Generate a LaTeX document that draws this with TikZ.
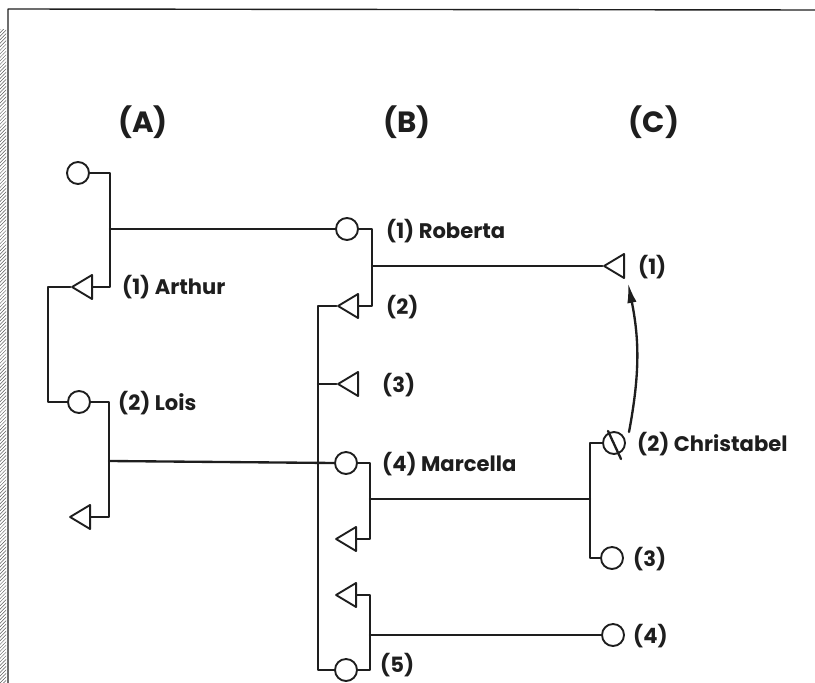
\documentclass[tikz,border=0pt]{standalone}
\usepackage{fontspec}
\setmainfont{Poppins}
\usetikzlibrary{arrows.meta,calc,positioning,shapes.geometric,patterns}

\begin{document}
\begin{tikzpicture}[
  x=0.03cm, y=-0.03cm,
  >=Latex,
  line cap=round,
  line join=round,
  kin/.style={draw=ink, line width=2pt},
  female/.style={circle, draw=ink, line width=1.6pt, inner sep=0pt, minimum size=0.66cm},
  male/.style={isosceles triangle, isosceles triangle apex angle=62,
    shape border rotate=180, draw=ink, line width=1.6pt, inner sep=0pt, minimum size=0.6cm},
  lbl/.style={anchor=west, inner sep=0pt, text=ink, font=\fontsize{18}{20}\selectfont\bfseries},
  head/.style={text=ink, font=\fontsize{25}{28}\selectfont\bfseries},
  descent/.style={-{Latex[length=17pt,width=8pt]}, draw=ink, line width=2pt}
]
\definecolor{ink}{HTML}{1E1E1E}
\useasboundingbox (0,0) rectangle (815,683);

% frame of the scanned page
\fill[pattern=north east lines, pattern color=ink!70] (0,30) rectangle (6,683);
\draw[ink, line width=1.2pt] (8,683) -- (8,9) -- (815,10);

\node[head] (hA) at (143,122) {(A)};
\node[head] (hB) at (407,122) {(B)};
\node[head] (hC) at (654,122) {(C)};

% Generation A
\node[female] (fA0) at (78,173) {};
\node[male, anchor=east] (mA1) at (93,287) {};
\node[female] (fA2) at (79,402) {};
\node[male, anchor=east] (mA3) at (91,517) {};
\coordinate (jA1) at (110,229);
\coordinate (kA) at (48,345);
\coordinate (jA2) at (109,461);
\draw[kin] (fA0.east) -| (jA1) |- (mA1.east);
\draw[kin] (mA1.apex) -| (kA) |- (fA2.west);
\draw[kin] (fA2.east) -| (jA2) |- (mA3.east);
\node[lbl] (tA1) at (122,287) {(1) Arthur};
\node[lbl] (tA2) at (118,403) {(2) Lois};

% Generation B
\node[female] (fB1) at (347,229) {};
\node[male, anchor=east] (mB2) at (359,306) {};
\node[male, anchor=east] (mB3) at (359,384) {};
\node[female] (fB4) at (346,463) {};
\node[male, anchor=east] (mB4) at (357,539) {};
\node[male, anchor=east] (mB5) at (357,595) {};
\node[female] (fB5) at (346,670) {};
\coordinate (jB1) at (372,266);
\coordinate (kB) at (318,490);
\coordinate (jB4) at (370,499);
\coordinate (jB5) at (370,635);
\draw[kin] (jA1) -- (fB1.west);
\draw[kin] (jA2) -- (fB4.west);
\draw[kin] (fB1.east) -| (jB1) |- (mB2.east);
\draw[kin] (mB2.apex) -| (kB) |- (fB5.west);
\draw[kin] (mB3.apex) -- (mB3.apex -| kB);
\draw[kin] (fB4.east) -| (jB4) |- (mB4.east);
\draw[kin] (mB5.east) -| (jB5) |- (fB5.east);
\node[lbl] (tB1) at (386,231) {(1) Roberta};
\node[lbl] (tB2) at (386,307) {(2)};
\node[lbl] (tB3) at (382,385) {(3)};
\node[lbl] (tB4) at (382,464) {(4) Marcella};
\node[lbl] (tB5) at (380,665) {(5)};

% Generation C
\node[male, anchor=east] (mC1) at (625,266) {};
\node[female] (fC2) at (614,443) {};
\node[female] (fC3) at (612,558) {};
\node[female] (fC4) at (613,635) {};
\coordinate (jC) at (590,499);
\draw[kin] (jB1) -- (mC1.apex);
\draw[kin] (fC2.west) -| (jC) |- (fC3.west);
\draw[kin] (jB4) -- (jC);
\draw[kin] (jB5) -- (fC4.west);
\draw[kin] ($(fC2)+(-6,-12)$) -- ($(fC2)+(7,16)$);
\coordinate (aS) at (629,432);
\coordinate (aE) at (628,283);
\draw[descent] (aS) to[bend right=11] (aE);
\node[lbl] (tC1) at (638,267) {(1)};
\node[lbl] (tC2) at (637,444) {(2) Christabel};
\node[lbl] (tC3) at (633,559) {(3)};
\node[lbl] (tC4) at (633,636) {(4)};
\end{tikzpicture}
\end{document}
